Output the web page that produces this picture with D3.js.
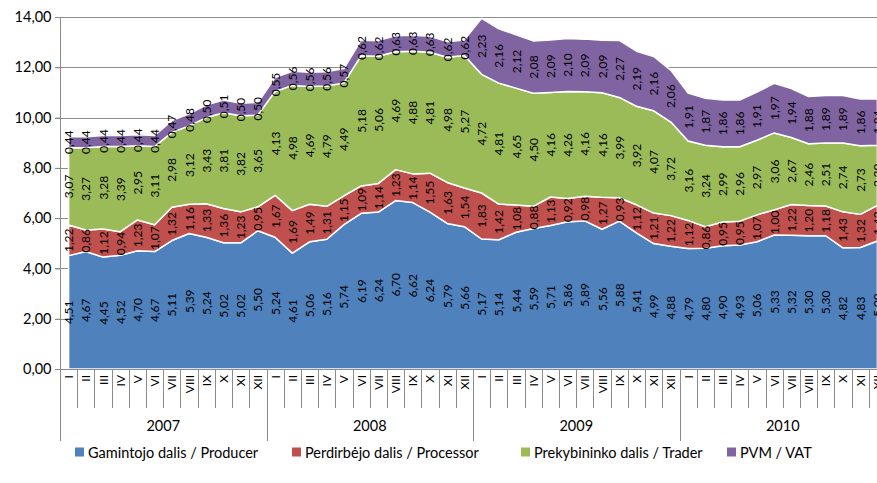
<!DOCTYPE html>
<meta charset="utf-8">
<style>
  body { margin: 0; background: #fff; overflow: hidden; }
  text { font-family: Lato, "Open Sans", sans-serif; fill: #000; }
  .grid line { stroke: #8c8c8c; stroke-width: 1; }
  .lbl { font-size: 12px; }
</style>
<svg width="877" height="483"></svg>
<script src="https://d3js.org/d3.v7.min.js"></script>
<script>
  var years = ["2007", "2008", "2009", "2010"];
  var months = ["I", "II", "III", "IV", "V", "VI", "VII", "VIII", "IX", "X", "XI", "XII"];

  var producer = [
    4.51, 4.67, 4.45, 4.52, 4.70, 4.67, 5.11, 5.39, 5.24, 5.02, 5.02, 5.50,
    5.24, 4.61, 5.06, 5.16, 5.74, 6.19, 6.24, 6.70, 6.62, 6.24, 5.79, 5.66,
    5.17, 5.14, 5.44, 5.59, 5.71, 5.86, 5.89, 5.56, 5.88, 5.41, 4.99, 4.88,
    4.79, 4.80, 4.90, 4.93, 5.06, 5.33, 5.32, 5.30, 5.30, 4.82, 4.83, 5.09
  ];
  var processor = [
    1.22, 0.86, 1.12, 0.94, 1.23, 1.07, 1.32, 1.16, 1.33, 1.36, 1.23, 0.95,
    1.67, 1.69, 1.49, 1.31, 1.15, 1.09, 1.14, 1.23, 1.14, 1.55, 1.63, 1.54,
    1.83, 1.42, 1.08, 0.88, 1.13, 0.92, 0.98, 1.27, 0.93, 1.12, 1.21, 1.22,
    1.12, 0.86, 0.95, 0.95, 1.07, 1.00, 1.22, 1.20, 1.18, 1.43, 1.32, 1.42
  ];
  var trader = [
    3.07, 3.27, 3.28, 3.39, 2.95, 3.11, 2.98, 3.12, 3.43, 3.81, 3.82, 3.65,
    4.13, 4.98, 4.69, 4.79, 4.49, 5.18, 5.06, 4.69, 4.88, 4.81, 4.98, 5.27,
    4.72, 4.81, 4.65, 4.50, 4.16, 4.26, 4.16, 4.16, 3.99, 3.92, 4.07, 3.72,
    3.16, 3.24, 2.99, 2.96, 2.97, 3.06, 2.67, 2.46, 2.51, 2.74, 2.73, 2.39
  ];
  var vat = [
    0.44, 0.44, 0.44, 0.44, 0.44, 0.44, 0.47, 0.48, 0.50, 0.51, 0.50, 0.50,
    0.55, 0.56, 0.56, 0.56, 0.57, 0.62, 0.62, 0.63, 0.63, 0.63, 0.62, 0.62,
    2.23, 2.16, 2.12, 2.08, 2.09, 2.10, 2.09, 2.09, 2.27, 2.19, 2.16, 2.06,
    1.91, 1.87, 1.86, 1.86, 1.91, 1.97, 1.94, 1.88, 1.89, 1.89, 1.86, 1.84
  ];
  var seriesNames = ["Gamintojo dalis / Producer", "Perdirbėjo dalis / Processor",
    "Prekybininko dalis / Trader", "PVM / VAT"];
  var colors = ["#4f81bd", "#c0504d", "#9bbb59", "#8064a2"];
  var yTicks = [0, 2, 4, 6, 8, 10, 12, 14];

  var svg = d3.select("svg");
  var mLeft = 60, mTop = 17, mBottom = 369, mRight = 886;

  // one row per month
  var rows = [];
  years.forEach(function (yr, yi) {
    months.forEach(function (m, mi) {
      var i = yi * 12 + mi;
      rows.push({ key: yr + "-" + m, year: yr, month: m,
        s0: producer[i], s1: processor[i], s2: trader[i], s3: vat[i] });
    });
  });

  var x = d3.scaleBand().domain(rows.map(function (d) { return d.key; }))
    .range([mLeft, mRight]);
  var y = d3.scaleLinear().domain([0, 14]).range([mBottom, mTop]);
  var cx = function (d) { return x(d.data.key) + x.bandwidth() / 2; };

  // gridlines
  svg.append("g").attr("class", "grid")
    .selectAll("line").data(yTicks).enter().append("line")
    .attr("x1", mLeft - 5).attr("x2", mRight)
    .attr("y1", function (d) { return Math.round(y(d)) + 0.5; })
    .attr("y2", function (d) { return Math.round(y(d)) + 0.5; });

  var stack = d3.stack().keys(["s0", "s1", "s2", "s3"]);
  var layers = stack(rows);

  var area = d3.area()
    .x(cx)
    .y0(function (d) { return y(d[0]); })
    .y1(function (d) { return y(d[1]); });

  svg.append("g").selectAll("path").data(layers).enter().append("path")
    .attr("d", area)
    .attr("fill", function (d, i) { return colors[i]; })
    .attr("stroke", "#fff")
    .attr("stroke-width", 1.5)
    .attr("stroke-linejoin", "round");

  // data labels
  var fmt = function (v) { return v.toFixed(2).replace(".", ","); };
  layers.forEach(function (layer) {
    svg.append("g").selectAll("text").data(layer).enter().append("text")
      .attr("class", "lbl")
      .attr("text-anchor", "middle")
      .attr("dominant-baseline", "central")
      .attr("transform", function (d) {
        return "translate(" + cx(d) + "," + y((d[0] + d[1]) / 2) + ") rotate(-90)";
      })
      .text(function (d) { return fmt(d[1] - d[0]); });
  });

  // y axis
  var yAxis = svg.append("g").attr("transform", "translate(" + (mLeft + 0.5) + ",0)")
    .call(d3.axisLeft(y).tickValues(yTicks).tickSize(5)
      .tickFormat(function (d) { return d.toFixed(2).replace(".", ","); }));
  yAxis.select(".domain").attr("stroke", "#8c8c8c").attr("d", "M0," + mTop + "V" + mBottom);
  yAxis.selectAll(".tick line").attr("stroke", "#8c8c8c");
  yAxis.selectAll(".tick text").attr("font-size", 14.5).attr("font-family", "Lato").attr("x", -9);

  // x axis
  var xg = svg.append("g");
  xg.append("line").attr("x1", mLeft).attr("x2", mRight)
    .attr("y1", mBottom + 0.5).attr("y2", mBottom + 0.5).attr("stroke", "#8c8c8c");
  xg.selectAll("line.tk").data(rows).enter().append("line")
    .attr("x1", function (d) { return Math.round(x(d.key)) + 0.5; })
    .attr("x2", function (d) { return Math.round(x(d.key)) + 0.5; })
    .attr("y1", mBottom)
    .attr("y2", function (d) { return d.month === "I" ? 441 : 408; })
    .attr("stroke", "#8c8c8c");
  xg.selectAll("text.m").data(rows).enter().append("text")
    .attr("font-size", 12)
    .attr("text-anchor", "end")
    .attr("dominant-baseline", "central")
    .attr("transform", function (d) {
      return "translate(" + (x(d.key) + x.bandwidth() / 2) + "," + (mBottom + 6) + ") rotate(-90)";
    })
    .text(function (d) { return d.month; });
  xg.selectAll("text.y").data(years).enter().append("text")
    .attr("font-size", 14.5)
    .attr("text-anchor", "middle")
    .attr("x", function (d) { return x(d + "-VI") + x.bandwidth(); })
    .attr("y", 431)
    .text(function (d) { return d; });

  // legend
  var legX = [75, 292, 521, 727];
  var leg = svg.append("g").selectAll("g").data(seriesNames).enter().append("g")
    .attr("transform", function (d, i) { return "translate(" + legX[i] + ",452)"; });
  leg.append("rect").attr("width", 9).attr("height", 9).attr("y", -4.5)
    .attr("fill", function (d, i) { return colors[i]; });
  leg.append("text").attr("x", 13).attr("dominant-baseline", "central")
    .attr("font-size", 14.5).text(function (d) { return d; });
</script>
